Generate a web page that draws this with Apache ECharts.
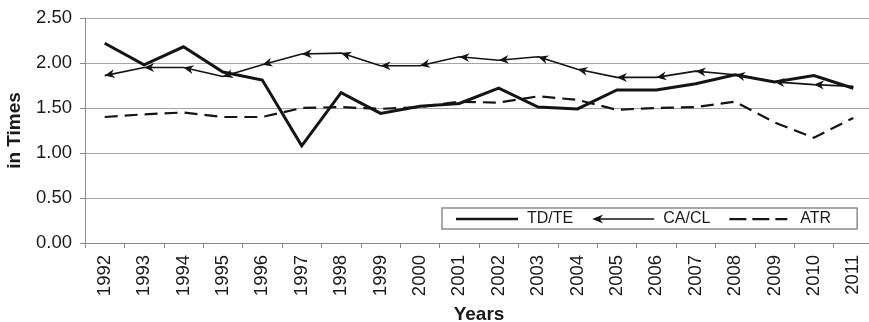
<!DOCTYPE html>
<html>
<head>
<meta charset="utf-8">
<script src="https://cdn.jsdelivr.net/npm/echarts@6/dist/echarts.min.js"></script>
<style>
  html, body { margin: 0; padding: 0; background: #fff; }
  #chart { width: 869px; height: 322px; }
</style>
</head>
<body>
<div id="chart"></div>
<script>
// Ratios per year
const years = ['1992','1993','1994','1995','1996','1997','1998','1999','2000','2001',
               '2002','2003','2004','2005','2006','2007','2008','2009','2010','2011'];
const tdte = [2.22, 1.98, 2.18, 1.90, 1.81, 1.08, 1.67, 1.44, 1.52, 1.55,
              1.72, 1.51, 1.49, 1.70, 1.70, 1.77, 1.87, 1.79, 1.86, 1.72];
const cacl = [1.86, 1.95, 1.95, 1.85, 1.98, 2.10, 2.11, 1.97, 1.97, 2.07,
              2.03, 2.07, 1.93, 1.84, 1.84, 1.91, 1.87, 1.79, 1.76, 1.74];
const atr  = [1.40, 1.43, 1.45, 1.40, 1.40, 1.50, 1.51, 1.49, 1.51, 1.57,
              1.56, 1.63, 1.59, 1.48, 1.50, 1.51, 1.57, 1.34, 1.17, 1.39];
const seriesNames = ['TD/TE', 'CA/CL', 'ATR'];

const INK = '#141414';
const GRID = '#a4a4a4';
const FONT = '"Liberation Sans", Arial, sans-serif';

// Arrowhead whose tip sits at the centre of its bounding box (leading moveTo widens the box)
const ARROW = 'path://M-10,5 M0,5 L10,0 L7,5 L10,10 Z';

// Legend icons drawn in a 62x12 box
const ICON_SOLID = 'path://M0,0 M62,12 M0,4.7h62v2.6h-62z';
const ICON_ARROW = 'path://M0,0 M62,12 M0,6 L11,1.5 L8,5.3 L62,5.3 L62,6.7 L8,6.7 L11,10.5 Z';
const ICON_DASH  = 'path://M0,0 M62,12 M0,5h17v2.2h-17z M23,5h17v2.2h-17z M46,5h12v2.2h-12z';

const chart = echarts.init(document.getElementById('chart'), null, { renderer: 'canvas' });

function caclData(rotations) {
  return cacl.map((v, i) => ({
    value: v,
    symbol: i === cacl.length - 1 ? 'none' : ARROW,
    symbolRotate: rotations ? rotations[i] : 0
  }));
}

const option = {
  animation: false,
  backgroundColor: '#fff',
  textStyle: { fontFamily: FONT },
  grid: { left: 85, right: -4, top: 18, bottom: 79, containLabel: false, outerBoundsMode: 'none' },
  legend: {
    left: 442, top: 208,
    orient: 'horizontal',
    itemWidth: 62, itemHeight: 12,
    itemGap: 19,
    padding: [3, 26, 2, 14],
    borderColor: '#8c8c8c', borderWidth: 1.5, borderRadius: 0,
    backgroundColor: '#fff',
    selectedMode: false,
    itemStyle: { borderWidth: 0 },
    textStyle: { fontFamily: FONT, fontSize: 16, color: '#1a1a1a', padding: [0, 0, 0, 4] },
    data: [
      { name: seriesNames[0], icon: ICON_SOLID },
      { name: seriesNames[1], icon: ICON_ARROW },
      { name: seriesNames[2], icon: ICON_DASH }
    ]
  },
  xAxis: {
    type: 'category',
    data: years,
    boundaryGap: true,
    name: 'Years',
    nameLocation: 'middle',
    nameGap: 62,
    nameTextStyle: { fontFamily: FONT, fontSize: 19, fontWeight: 'bold', color: '#1a1a1a' },
    axisLine: { show: true, lineStyle: { color: '#8a8a8a', width: 1 } },
    axisTick: { show: true, interval: 0, length: 5, alignWithLabel: false, lineStyle: { color: '#8a8a8a' } },
    axisLabel: { interval: 0, rotate: 90, margin: 12, fontFamily: FONT, fontSize: 18.5, color: '#1a1a1a' },
    splitLine: { show: false }
  },
  yAxis: {
    type: 'value',
    min: 0, max: 2.5, interval: 0.5,
    name: 'in Times',
    nameLocation: 'middle',
    nameGap: 61,
    nameTextStyle: { fontFamily: FONT, fontSize: 19, fontWeight: 'bold', color: '#1a1a1a' },
    axisLine: { show: true, lineStyle: { color: '#8a8a8a', width: 1 } },
    axisTick: { show: true, length: 5, lineStyle: { color: '#8a8a8a' } },
    axisLabel: { margin: 13, fontFamily: FONT, fontSize: 18.5, color: '#1a1a1a',
                 formatter: v => v.toFixed(2) },
    splitLine: { show: true, lineStyle: { color: GRID, width: 1.2 } }
  },
  series: [
    {
      name: seriesNames[0], type: 'line', data: tdte,
      symbol: 'none', z: 4,
      lineStyle: { color: INK, width: 3, join: 'miter' },
      itemStyle: { color: INK, borderWidth: 0 }
    },
    {
      name: seriesNames[1], type: 'line', data: caclData(null),
      symbolSize: [20, 9], showAllSymbol: true, z: 3,
      lineStyle: { color: INK, width: 1.6 },
      itemStyle: { color: INK, borderWidth: 0 }
    },
    {
      name: seriesNames[2], type: 'line', data: atr,
      symbol: 'none', z: 2,
      lineStyle: { color: INK, width: 2.2, type: [13, 7] },
      itemStyle: { color: INK, borderWidth: 0 }
    }
  ]
};

chart.setOption(option);

// Orient each arrowhead along the segment it starts, pointing back toward its own point
const px = cacl.map((v, i) => chart.convertToPixel({ seriesIndex: 1 }, [i, v]));
const rotations = px.map((p, i) => {
  if (i === px.length - 1) return 0;
  const q = px[i + 1];
  return Math.atan2(-(p[1] - q[1]), p[0] - q[0]) * 180 / Math.PI - 180;
});
chart.setOption({ series: [{}, { data: caclData(rotations) }, {}] });
</script>
</body>
</html>
